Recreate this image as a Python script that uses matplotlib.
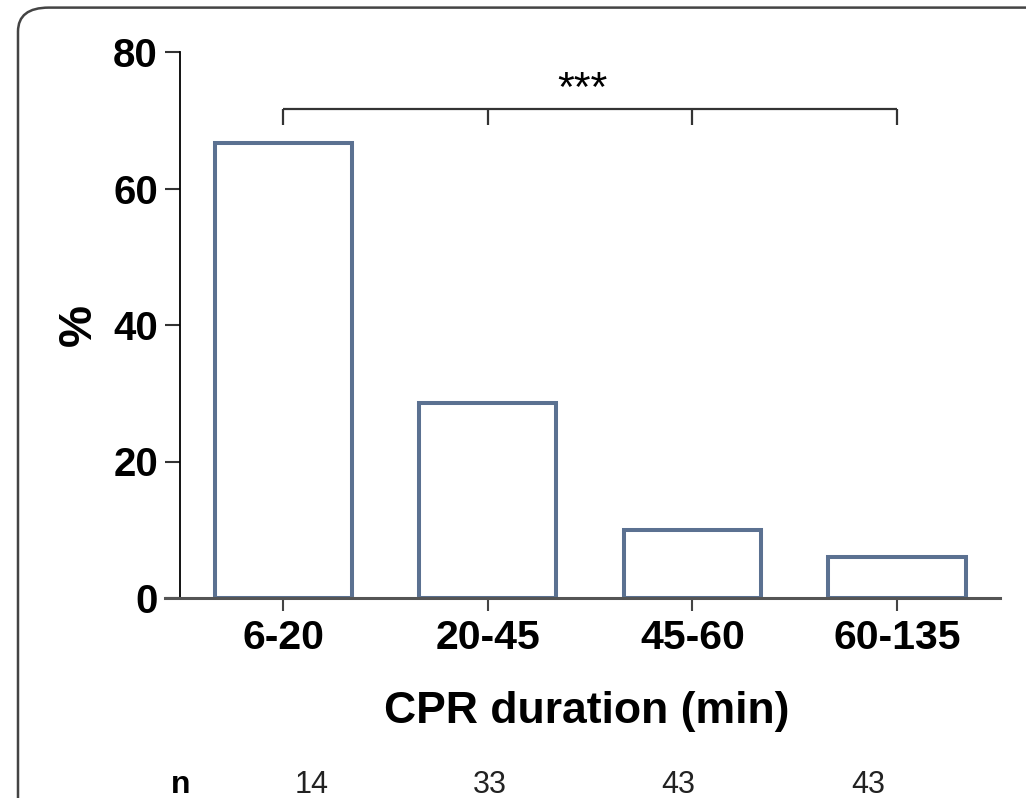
import matplotlib
matplotlib.use("Agg")
import matplotlib.pyplot as plt
import matplotlib.transforms as mtransforms
from matplotlib.patches import FancyBboxPatch

plt.rcParams["font.family"] = ["Liberation Sans", "DejaVu Sans"]

# data
categories = ["6-20", "20-45", "45-60", "60-135"]
percent = [66.7, 28.5, 10.0, 6.0]
n_labels = ["14", "33", "43", "43"]
n_xpos = [0.14, 1.01, 1.93, 2.86]
sig_label = "***"

bar_edge = "#5b7191"

fig = plt.figure(figsize=(10.26, 7.98), dpi=100)

# rounded panel border, cut by the figure edge
border = FancyBboxPatch((18 / 1026, -0.2), 1.2, (790 + 160) / 798,
                        boxstyle="round,pad=0,rounding_size=0.03",
                        transform=fig.transFigure, facecolor="none",
                        edgecolor="#444444", linewidth=1.8)
fig.patches.append(border)

ax = fig.add_axes([165 / 1026, 200 / 798, 835 / 1026, 546 / 798])
ax.patch.set_visible(False)

x = list(range(len(categories)))
ax.bar(x, percent, width=0.67, facecolor="white", edgecolor=bar_edge,
       linewidth=2.9, zorder=2)

ax.set_xlim(-0.577, 3.503)
ax.set_ylim(0, 80)

ax.spines["top"].set_visible(False)
ax.spines["right"].set_visible(False)
ax.spines["left"].set_position(("data", -0.503))
ax.spines["left"].set_linewidth(1.3)
ax.spines["left"].set_color("black")
ax.spines["bottom"].set_linewidth(2.2)
ax.spines["bottom"].set_color("#555555")

ax.set_yticks([0, 20, 40, 60, 80])
ax.set_xticks(x)
ax.set_xticklabels(categories)
ax.tick_params(axis="y", length=11, width=1.5, color="#333333", pad=5,
               labelsize=29)
ax.tick_params(axis="x", length=9, width=1.5, color="#444444", pad=6,
               labelsize=29.5)
for lab in ax.get_xticklabels() + ax.get_yticklabels():
    lab.set_fontweight("bold")

ax.set_ylabel("%", fontsize=34, fontweight="bold")
ax.yaxis.set_label_coords(-0.077, 0.5)
ax.set_xlabel("CPR duration (min)", fontsize=32, fontweight="bold")
ax.xaxis.set_label_coords(0.505, -0.17)

# significance bracket over all groups
bracket_y = 71.6
tick_y = 69.3
ax.plot([x[0], x[-1]], [bracket_y, bracket_y], color="#333333", lw=1.6,
        solid_capstyle="butt", clip_on=False)
for xi in x:
    ax.plot([xi, xi], [bracket_y, tick_y], color="#333333", lw=1.6,
            solid_capstyle="butt", clip_on=False)
ax.text(1.463, 72.8, sig_label, ha="center", va="baseline", fontsize=31)

# n row under the axis
trans = mtransforms.blended_transform_factory(ax.transData, ax.transAxes)
ax.text(-0.503, -0.357, "n", transform=trans, ha="center", va="baseline",
        fontsize=23, fontweight="bold")
for xp, lab in zip(n_xpos, n_labels):
    ax.text(xp, -0.357, lab, transform=trans, ha="center", va="baseline",
            fontsize=22, color="#222222")

fig.savefig("out.png", dpi=100)
